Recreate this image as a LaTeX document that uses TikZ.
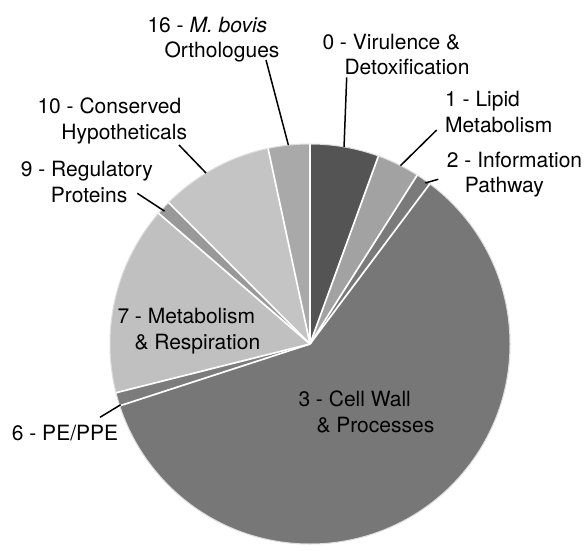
\documentclass[tikz,border=0pt]{standalone}
\usepackage{fontspec}
\setmainfont{TeX Gyre Heros}
\usepackage{tikz}
\usetikzlibrary{calc}
\definecolor{VirulenceGrey}{HTML}{545454}
\definecolor{LipidGrey}{HTML}{A2A2A2}
\definecolor{InformationGrey}{HTML}{7A7A7A}
\definecolor{CellWallGrey}{HTML}{777777}
\definecolor{PEGrey}{HTML}{7C7C7C}
\definecolor{MetabolismGrey}{HTML}{C0C0C0}
\definecolor{RegulatoryGrey}{HTML}{999999}
\definecolor{ConservedGrey}{HTML}{C4C4C4}
\definecolor{BovisGrey}{HTML}{A9A9A9}
\definecolor{RimGrey}{HTML}{DDDDDD}
\tikzstyle{LabelText}=[anchor=base west,inner sep=0pt,align=left,font=\fontsize{21}{25.5}\selectfont]
\tikzstyle{Leader}=[draw=black,line width=1.5pt]
\tikzstyle{Separator}=[draw=white,line width=1.7pt]

\begin{document}
\begin{tikzpicture}[x=1pt,y=1pt]
  \fill[white] (0,0) rectangle (586,550);
  \useasboundingbox (0,0) rectangle (586,550);
  \coordinate (PieCentre) at (310,206);

  % slices, clockwise from the top
  \foreach \from/\to/\shade in {90/70/VirulenceGrey, 70/57.6/LipidGrey, 57.6/53.2/InformationGrey,
      53.2/-162/CellWallGrey, 198/194.1/PEGrey, 194.1/139.2/MetabolismGrey,
      139.2/135/RegulatoryGrey, 135/102.1/ConservedGrey, 102.1/90/BovisGrey}
    \fill[\shade] (PieCentre) -- ($(PieCentre)+(\from:200)$) arc[start angle=\from,end angle=\to,radius=200] -- cycle;
  \draw[RimGrey,line width=1pt] (PieCentre) circle[radius=200];
  \foreach \cut in {90,70,57.6,53.2,198,194.1,139.2,135,102.1}
    \draw[Separator] (PieCentre) -- ($(PieCentre)+(\cut:200)$);

  % labels sit on the baseline of their last line
  \node[LabelText](BovisLabel) at (147.3,492.2){16 - \textit{M. bovis}\\\hspace*{17pt}Orthologues};
  \node[LabelText](VirulenceLabel) at (322.3,475.2){0 - Virulence \&\\\hspace*{22pt}Detoxification};
  \node[LabelText](LipidLabel) at (445,417.8){1 - Lipid\\Metabolism};
  \node[LabelText](InformationLabel) at (446.7,357.2){2 - Information\\\hspace*{18pt}Pathway};
  \node[LabelText](ConservedLabel) at (37.3,410.5){10 - Conserved\\\hspace*{24pt}Hypotheticals};
  \node[LabelText](RegulatoryLabel) at (20.7,347.8){9 - Regulatory\\\hspace*{30pt}Proteins};
  \node[LabelText](MetabolismLabel) at (117.3,201){7 - Metabolism\\\hspace*{17pt}\& Respiration};
  \node[LabelText](CellWallLabel) at (298.3,117.8){3 - Cell Wall\\\hspace*{18pt}\& Processes};
  \node[LabelText](PELabel) at (11.7,109.3){6 - PE/PPE};

  \coordinate (BovisTail) at (266,490);
  \coordinate (VirulenceTail) at (346.7,472.7);
  \coordinate (LipidTail) at (436.7,420);
  \coordinate (InformationTail) at (438.3,370.7);
  \coordinate (ConservedTail) at (179,405);
  \coordinate (RegulatoryTail) at (137.3,356.7);
  \coordinate (PETail) at (100,132.7);
  \coordinate (BovisRim) at ($(PieCentre)+(96.2:200)$);
  \coordinate (VirulenceRim) at ($(PieCentre)+(80.2:200)$);
  \coordinate (LipidRim) at ($(PieCentre)+(63.1:200)$);
  \coordinate (InformationRim) at ($(PieCentre)+(54.4:198)$);
  \coordinate (ConservedRim) at ($(PieCentre)+(121.3:200)$);
  \coordinate (RegulatoryRim) at ($(PieCentre)+(137.6:197)$);
  \coordinate (PERim) at ($(PieCentre)+(197.8:199)$);

  \draw[Leader] (BovisTail) -- (BovisRim);
  \draw[Leader] (VirulenceTail) -- (VirulenceRim);
  \draw[Leader] (LipidTail) -- (LipidRim);
  \draw[Leader] (InformationTail) -- (InformationRim);
  \draw[Leader] (ConservedTail) -- (ConservedRim);
  \draw[Leader] (RegulatoryTail) -- (RegulatoryRim);
  \draw[Leader] (PETail) -- (PERim);
\end{tikzpicture}
\end{document}
